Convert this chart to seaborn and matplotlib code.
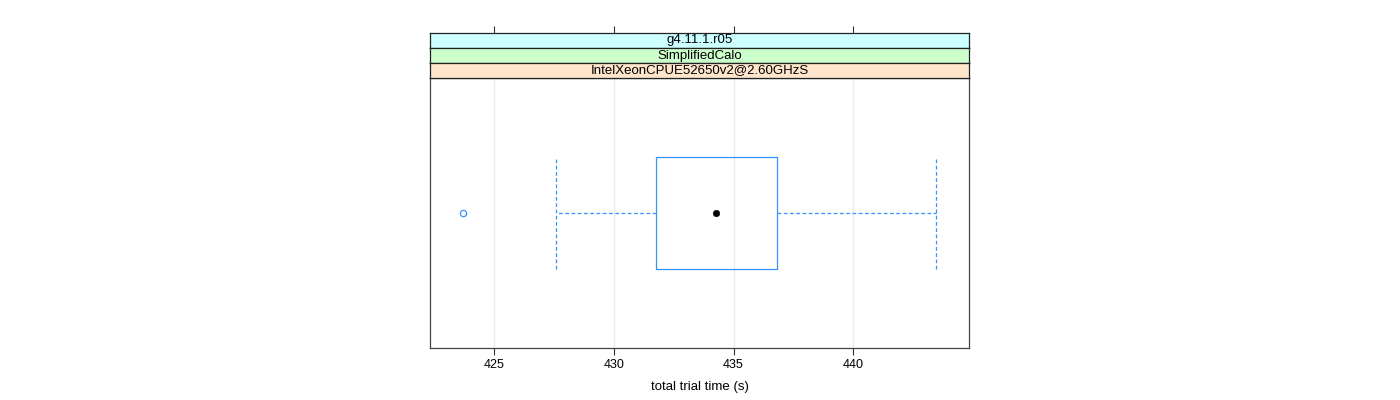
import matplotlib
matplotlib.use("Agg")
import matplotlib.pyplot as plt
import seaborn as sns
import pandas as pd

# ---- data ----
strip_labels = ["g4.11.1.r05", "SimplifiedCalo", "IntelXeonCPUE52650v2@2.60GHzS"]
strip_colors = ["#ccffff", "#ccffcc", "#ffe5cc"]
whisker_low = 427.6
q1 = 431.75
median = 434.25
q3 = 436.8
whisker_high = 443.45
outliers = [423.7]
x_ticks = [425, 430, 435, 440]
x_label = "total trial time (s)"

sns.set_theme(style="white")
plt.rcParams["font.family"] = ["Liberation Sans", "DejaVu Sans"]
plt.rcParams["text.color"] = "black"
plt.rcParams["xtick.color"] = "black"
plt.rcParams["axes.labelcolor"] = "black"

fig = plt.figure(figsize=(14, 4), dpi=100)
W, H = 1400, 400
left, right = 430 / W, 969 / W
ax = fig.add_axes([left, 1 - 348 / H, right - left, 270 / H])

blue = "#3393ff"
stats = [dict(med=median, q1=q1, q3=q3, whislo=whisker_low, whishi=whisker_high,
              fliers=outliers, label="")]
box_h = 112 / 270
ax.bxp(stats, positions=[1], widths=box_h, capwidths=box_h, vert=False,
       showfliers=True, patch_artist=False,
       boxprops=dict(color=blue, lw=0.9),
       whiskerprops=dict(color=blue, lw=0.9, ls=(0, (3, 2))),
       capprops=dict(color=blue, lw=0.9, ls=(0, (3, 2))),
       medianprops=dict(lw=0, color="none"),
       flierprops=dict(marker="o", markerfacecolor="none", markeredgecolor=blue,
                       markersize=4.5, markeredgewidth=0.9))
sns.scatterplot(x=pd.Series([median]), y=pd.Series([1.0]), ax=ax, color="black",
                s=22, edgecolor="black", zorder=5)

xmin = 422.33
xmax = 444.83
ax.set_xlim(xmin, xmax)
ax.set_ylim(0.5, 1.5)
ax.set_yticks([])
ax.set_ylabel("")
ax.set_xticks(x_ticks)
ax.set_xticklabels([str(t) for t in x_ticks], fontsize=9)
for t in x_ticks:
    ax.axvline(t, color="#ebebeb", lw=1.0, zorder=0)
ax.tick_params(axis="x", bottom=True, direction="out", length=5, width=0.8,
               color="#333333", pad=3)
ax.set_xlabel(x_label, fontsize=9.5, labelpad=7)
for s in ax.spines.values():
    s.set_color("#444444")
    s.set_linewidth(0.9)

# ---- strips ----
tops = [33, 48, 63]
for lab, col, top in zip(strip_labels, strip_colors, tops):
    sax = fig.add_axes([left, 1 - (top + 15) / H, right - left, 15 / H])
    sax.set_xlim(xmin, xmax)
    sax.set_ylim(0, 1)
    sax.set_facecolor(col)
    sax.set_yticks([])
    sax.text(0.5, 0.5, lab, transform=sax.transAxes, ha="center", va="center",
             fontsize=9.5)
    for s in sax.spines.values():
        s.set_color("#222222")
        s.set_linewidth(0.9)
    if top == 33:
        sax.set_xticks(x_ticks)
        sax.tick_params(axis="x", top=True, bottom=False, labeltop=False,
                        labelbottom=False, direction="out", length=5, width=0.8,
                        color="#333333")
    else:
        sax.set_xticks([])

fig.savefig("out.png", dpi=100)
